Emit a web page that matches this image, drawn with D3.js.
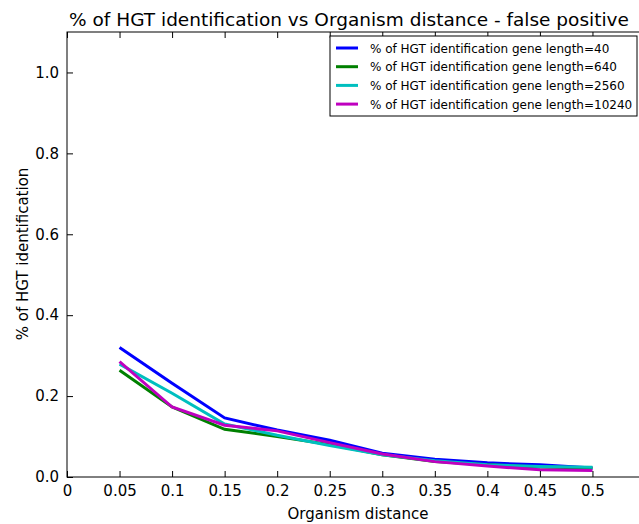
<!DOCTYPE html>
<html><head><meta charset="utf-8">
<script src="https://cdn.jsdelivr.net/npm/d3@7"></script>
<style>body{margin:0;background:#fff;} svg{display:block;font-family:"DejaVu Sans",sans-serif;}</style>
</head><body><div id="chart"></div>
<script>
const distances = [0.05,0.1,0.15,0.2,0.25,0.3,0.35,0.4,0.45,0.5];
const len40    = [0.320,0.232,0.146,0.116,0.091,0.059,0.044,0.035,0.030,0.022];
const len640   = [0.264,0.173,0.118,0.100,0.080,0.055,0.038,0.030,0.025,0.022];
const len2560  = [0.279,0.207,0.131,0.103,0.078,0.055,0.040,0.030,0.026,0.024];
const len10240 = [0.285,0.173,0.128,0.114,0.085,0.057,0.038,0.027,0.018,0.016];
const seriesNames = ["% of HGT identification gene length=40","% of HGT identification gene length=640","% of HGT identification gene length=2560","% of HGT identification gene length=10240"];
const seriesColors = ["#0000ff","#008000","#00bfbf","#bf00bf"];
const xTicks = [0,0.05,0.1,0.15,0.2,0.25,0.3,0.35,0.4,0.45,0.5];
const yTicks = [0,0.2,0.4,0.6,0.8,1.0];
const series = [len40,len640,len2560,len10240];

const W=639,H=524;
const m={left:67,top:32,right:645,bottom:477};
const svg=d3.select("#chart").append("svg").attr("width",W).attr("height",H);
const x=d3.scaleLinear().domain([0,0.55]).range([m.left,m.right]);
const y=d3.scaleLinear().domain([0,1.1]).range([m.bottom,m.top]);

const line=d3.line().x((d,i)=>x(distances[i])).y(d=>y(d));
series.forEach((s,k)=>{
  svg.append("path").datum(s).attr("d",line).attr("fill","none")
    .attr("stroke",seriesColors[k]).attr("stroke-width",3).attr("stroke-linejoin","miter");
});

// frame
svg.append("rect").attr("x",m.left).attr("y",m.top).attr("width",m.right-m.left).attr("height",m.bottom-m.top)
  .attr("fill","none").attr("stroke","#000").attr("stroke-width",1);

const fmtX=d=>d===0?"0":String(d);
const xa=svg.append("g").attr("transform",`translate(0,${m.bottom})`)
  .call(d3.axisBottom(x).tickValues(xTicks).tickFormat(fmtX).tickSizeInner(-6).tickSizeOuter(0).tickPadding(8));
const xt=svg.append("g").attr("transform",`translate(0,${m.top})`)
  .call(d3.axisTop(x).tickValues(xTicks).tickFormat("").tickSizeInner(-6).tickSizeOuter(0));
const ya=svg.append("g").attr("transform",`translate(${m.left},0)`)
  .call(d3.axisLeft(y).tickValues(yTicks).tickFormat(d3.format(".1f")).tickSizeInner(-6).tickSizeOuter(0).tickPadding(8));
[xa,xt,ya].forEach(g=>{g.select(".domain").remove();g.selectAll("text").attr("font-size",15).attr("fill","#000").attr("font-family","DejaVu Sans, sans-serif");g.selectAll("line").attr("stroke","#000");});

svg.append("text").attr("x",349).attr("y",26).attr("text-anchor","middle").attr("font-size",18.5).text("% of HGT identification vs Organism distance - false positive");
svg.append("text").attr("x",358).attr("y",519).attr("text-anchor","middle").attr("font-size",15).text("Organism distance");
svg.append("text").attr("transform","translate(28,254) rotate(-90)").attr("text-anchor","middle").attr("font-size",15).text("% of HGT identification");

// legend
const lg=svg.append("g");
lg.append("rect").attr("x",330).attr("y",36).attr("width",307).attr("height",80).attr("fill","#fff").attr("stroke","#000").attr("stroke-width",1);
seriesNames.forEach((n,k)=>{
  const yy=48+k*18.7;
  lg.append("line").attr("x1",336).attr("x2",358).attr("y1",yy).attr("y2",yy).attr("stroke",seriesColors[k]).attr("stroke-width",3);
  lg.append("text").attr("x",370).attr("y",yy+4.5).attr("font-size",12).text(n);
});
</script></body></html>
